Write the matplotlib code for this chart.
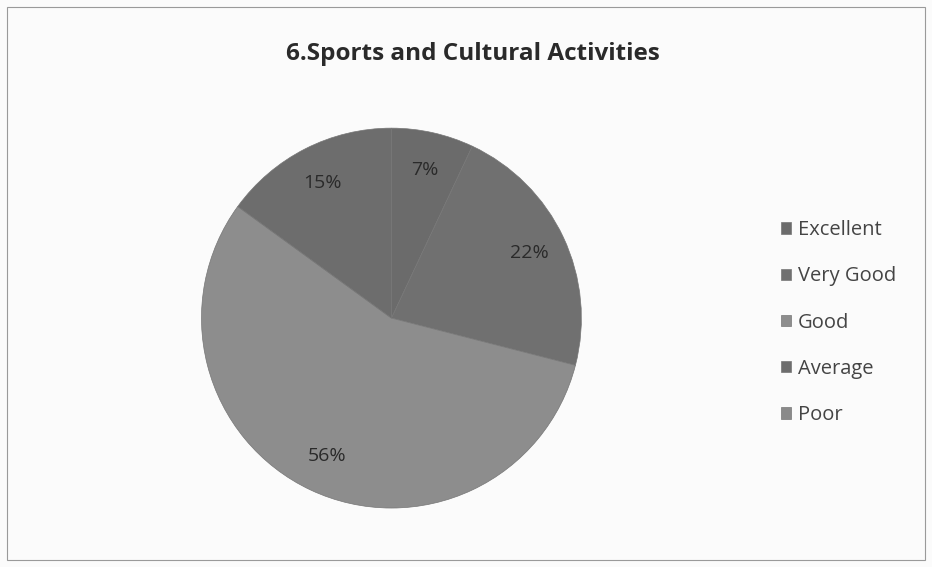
import matplotlib.pyplot as plt
from matplotlib.patches import Rectangle

plt.rcParams['font.family'] = ['Open Sans', 'DejaVu Sans']

labels = ['Excellent', 'Very Good', 'Good', 'Average', 'Poor']
values = [7, 22, 56, 15, 0]
colors = ['#6b6b6b', '#707070', '#8d8d8d', '#6d6d6d', '#8a8a8a']

fig = plt.figure(figsize=(9.32, 5.67), dpi=100, facecolor='#fbfbfb')

# border of the chart area
fig.patches.append(Rectangle((0.008, 0.012), 0.985, 0.975, transform=fig.transFigure,
                             fill=False, edgecolor='#9a9a9a', linewidth=0.8))

ax = fig.add_axes([0.216, 0.104, 0.408, 0.670])
ax.set_facecolor('none')


def pct(p):
    return '%d%%' % round(p) if p >= 0.5 else ''


wedges, texts, autotexts = ax.pie(values, colors=colors, startangle=90, counterclock=False,
                                  autopct=pct, pctdistance=0.8,
                                  wedgeprops=dict(linewidth=0.5, edgecolor='#767676'),
                                  textprops=dict(fontsize=14, color='#2a2a2a'))
ax.set_xlim(-1, 1)
ax.set_ylim(-1, 1)
ax.set_aspect('equal')

fig.text(0.507, 0.904, '6.Sports and Cultural Activities', ha='center', va='center',
         fontsize=17.5, fontweight='bold', color='#2a2a2a')

fig.legend(wedges, labels, loc='center left', bbox_to_anchor=(0.838, 0.431),
           frameon=False, fontsize=14.5, handlelength=0.5, handleheight=0.5,
           handletextpad=0.35, labelspacing=1.3, borderpad=0, borderaxespad=0,
           labelcolor='#444444')

plt.savefig('out.png', dpi=100, facecolor=fig.get_facecolor())
